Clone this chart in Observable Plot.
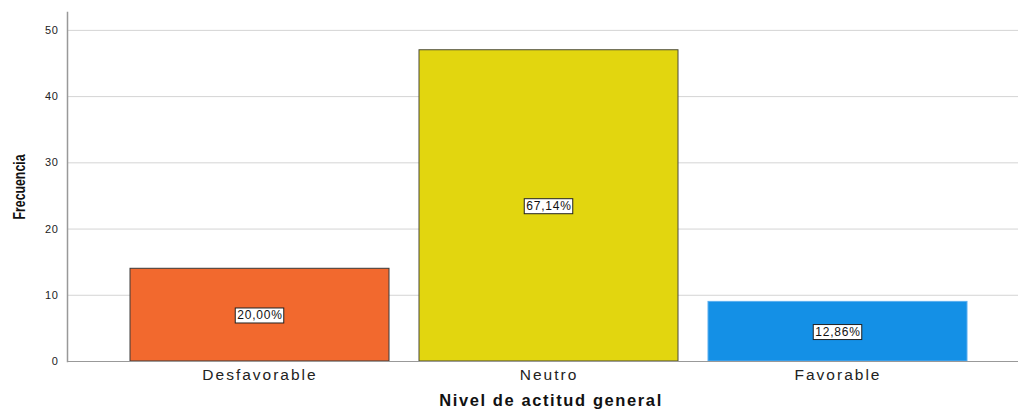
<!DOCTYPE html>
<html>
<head>
<meta charset="utf-8">
<script src="https://cdn.jsdelivr.net/npm/d3@7"></script>
<script src="https://cdn.jsdelivr.net/npm/@observablehq/plot@0.6"></script>
<style>
html,body{margin:0;padding:0;background:#fff;}
#chart{width:1018px;height:409px;overflow:hidden;}
</style>
</head>
<body>
<div id="chart"></div>
<script>
const categories = ["Desfavorable", "Neutro", "Favorable"];
const counts = [14, 47, 9];
const percentLabels = ["20,00%", "67,14%", "12,86%"];
const colors = ["#F2692E", "#E2D60F", "#1490E6"];
const strokes = ["#3a3a3a", "#4a4a3a", "#5aaef0"];
const yTicks = [0, 10, 20, 30, 40, 50];

const data = categories.map((c, i) => ({cat: c, n: counts[i], label: percentLabels[i], fill: colors[i], stroke: strokes[i]}));

const chart = Plot.plot({
  width: 1018,
  height: 409,
  marginLeft: 67,
  marginRight: 0,
  marginTop: 12,
  marginBottom: 48,
  style: {fontFamily: "'Liberation Sans', Arial, sans-serif", background: "#fff"},
  x: {domain: categories, paddingInner: 0.104, paddingOuter: 0.197, align: 0.553, label: null},
  y: {domain: [0, 52.7], label: null},
  marks: [
    Plot.gridY(yTicks, {stroke: "#d4d4d4", strokeOpacity: 1, strokeWidth: 1}),
    Plot.barY(data, {x: "cat", y: "n", fill: "fill", stroke: "stroke", strokeWidth: 1}),
    Plot.ruleY([0], {stroke: "#999", strokeWidth: 1}),
    Plot.frame({anchor: "left", stroke: "#999", strokeWidth: 1.5}),
    Plot.axisY(yTicks, {tickSize: 0, tickPadding: 9, fontSize: 11, fill: "#222", label: null, className: "yax"}),
    Plot.axisX({tickSize: 0, tickPadding: 7, fontSize: 15.5, fill: "#222", label: null, className: "xax"}),
    Plot.text(data, {x: "cat", y: d => d.n / 2, text: "label", fontSize: 12, fill: "#111", className: "pct"}),
    Plot.text(["Frecuencia"], {frameAnchor: "left", textAnchor: "middle", dx: -48, rotate: -90, fontSize: 17, fontWeight: "bold", fill: "#111", className: "ytitle"}),
    Plot.text(["Nivel de actitud general"], {frameAnchor: "bottom", dx: 8, dy: 44, fontSize: 16.5, fontWeight: "bold", fill: "#111", className: "xtitle"})
  ]
});
document.getElementById("chart").appendChild(chart);

const svg = d3.select(chart.tagName === "svg" ? chart : chart.querySelector("svg"));
svg.selectAll("g.xax text").style("letter-spacing", "2px");
svg.selectAll("g.yax text").style("letter-spacing", "0.6px");
svg.selectAll("g.xtitle text").style("letter-spacing", "1.6px");
svg.selectAll("g.ytitle text").attr("textLength", 65).attr("lengthAdjust", "spacingAndGlyphs");
svg.selectAll("g.pct text").style("letter-spacing", "0.8px");

// Add white boxes with dark border behind percentage labels
svg.selectAll("g.pct text").each(function() {
  const b = this.getBBox();
  const g = this.parentNode;
  const r = document.createElementNS("http://www.w3.org/2000/svg", "rect");
  r.setAttribute("x", b.x - 2);
  r.setAttribute("y", b.y);
  r.setAttribute("width", b.width + 3);
  r.setAttribute("height", b.height + 1);
  r.setAttribute("fill", "#fff");
  r.setAttribute("stroke", "#222");
  r.setAttribute("stroke-width", "1");
  const tr = this.getAttribute("transform");
  if (tr) r.setAttribute("transform", tr);
  g.insertBefore(r, this);
});
</script>
</body>
</html>
